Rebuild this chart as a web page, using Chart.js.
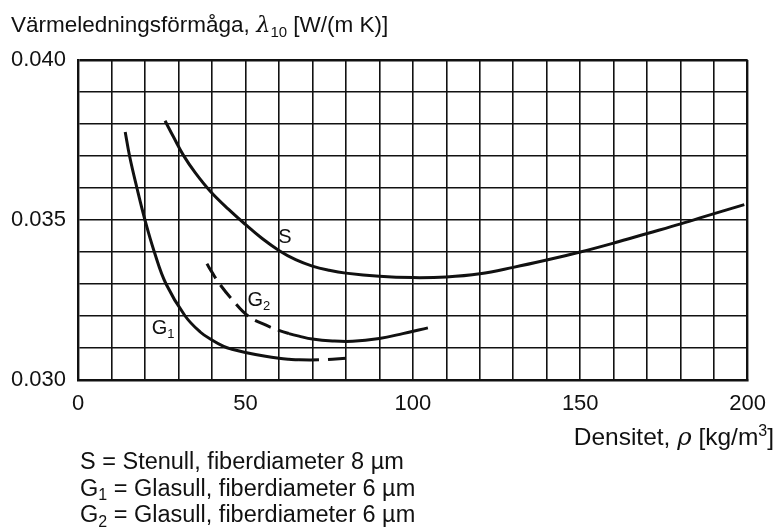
<!DOCTYPE html>
<html>
<head>
<meta charset="utf-8">
<script src="https://cdn.jsdelivr.net/npm/chart.js@4"></script>
<style>
html,body{margin:0;padding:0;background:#fff;}
#wrap{width:777px;height:531px;position:relative;}
</style>
</head>
<body>
<div id="wrap"><canvas id="c" width="777" height="531"></canvas></div>
<script>
// ---- data ----
const sX  = [26, 28.5, 31.5, 35, 39.5, 45, 50, 55, 60, 65, 70, 75, 80, 90, 100, 110, 120, 130, 140, 150, 160, 170, 180, 190, 199];
const sY  = [0.0381, 0.0376, 0.03702, 0.03648, 0.0359, 0.03533, 0.03486, 0.03442, 0.03405, 0.03376, 0.03356, 0.03343, 0.03334, 0.03324, 0.0332, 0.03322, 0.03332, 0.03352, 0.03375, 0.034, 0.03428, 0.03458, 0.03488, 0.0352, 0.03548];
const g1X = [14.1, 15.4, 17.6, 20, 22.8, 26.3, 32, 36.5, 40, 43.5, 46, 50, 56, 60, 63, 66, 72, 80];
const g1Y = [0.03775, 0.0370, 0.0360, 0.0350, 0.0340, 0.0330, 0.0320, 0.0315, 0.03125, 0.03105, 0.03096, 0.03086, 0.03074, 0.03068, 0.03065, 0.03063, 0.03063, 0.03068];
const g1DashFrom = 63.5; // G1 is dashed beyond this density
const g2X = [38.5, 40, 42.3, 46, 50.8, 56, 60, 63, 66, 70, 76, 82, 90, 97, 104.5];
const g2Y = [0.03363, 0.03337, 0.0330, 0.03252, 0.0320, 0.03172, 0.03155, 0.03145, 0.03137, 0.03128, 0.03122, 0.03121, 0.0313, 0.03145, 0.03163];
const g2DashTo = 63;     // G2 is dashed up to this density
const xTickLabels = [0, 50, 100, 150, 200];
const yTickLabels = ['0.030', '0.035', '0.040'];
const curveLabels = [
  {runs: [['S','n']], x: 61.6, y: 0.0345},
  {runs: [['G','n'],['2','sub']], x: 52.4, y: 0.03253},
  {runs: [['G','n'],['1','sub']], x: 23.8, y: 0.03166}
];
const titleRuns = [['Värmeledningsförmåga, ','n'],['λ','i'],['10','sub'],[' [W/(m K)]','n']];
const xTitleRuns = [['Densitet, ','n'],['ρ','i'],[' [kg/m','n'],['3','sup'],[']','n']];
const legendLines = [
  [['S = Stenull, fiberdiameter 8 µm','n']],
  [['G','n'],['1','sub'],[' = Glasull, fiberdiameter 6 µm','n']],
  [['G','n'],['2','sub'],[' = Glasull, fiberdiameter 6 µm','n']]
];

const FONT = '"Liberation Sans", Arial, sans-serif';
const INK = '#111';

function runFont(style, size){
  if (style === 'i') return 'italic ' + size + 'px "DejaVu Serif", serif';
  if (style === 'sub' || style === 'sup') return Math.round(size*0.66) + 'px ' + FONT;
  return size + 'px ' + FONT;
}
function runsWidth(ctx, runs, size){
  let w = 0;
  for (const [t, s] of runs){ ctx.font = runFont(s, size); w += ctx.measureText(t).width; }
  return w;
}
function drawRuns(ctx, runs, x, y, size, align){
  if (align === 'right') x -= runsWidth(ctx, runs, size);
  ctx.textBaseline = 'alphabetic';
  ctx.textAlign = 'left';
  ctx.fillStyle = INK;
  for (const [t, s] of runs){
    ctx.font = runFont(s, size);
    let dy = 0;
    if (s === 'sub') dy = size*0.2;
    if (s === 'sup') dy = -size*0.38;
    ctx.fillText(t, x, y + dy);
    x += ctx.measureText(t).width;
  }
}

const textPlugin = {
  id: 'texts',
  afterDraw(chart){
    const ctx = chart.ctx;
    const xs = chart.scales.x, ys = chart.scales.y;
    ctx.save();
    drawRuns(ctx, titleRuns, 11, 32, 22.5, 'left');
    drawRuns(ctx, xTitleRuns, 774, 445, 24.5, 'right');
    legendLines.forEach((runs, i) => drawRuns(ctx, runs, 80, 469 + i*26.5, 23.5, 'left'));
    for (const lab of curveLabels){
      drawRuns(ctx, lab.runs, xs.getPixelForValue(lab.x) - 6, ys.getPixelForValue(lab.y) + 7, 20, 'left');
    }
    ctx.restore();
  }
};

const lineStyle = {
  borderColor: INK, borderWidth: 3, pointRadius: 0, showLine: true,
  tension: 0.4, fill: false, borderCapStyle: 'butt'
};
const pts = (xs, ys) => xs.map((x, i) => ({x, y: ys[i]}));

new Chart(document.getElementById('c'), {
  type: 'scatter',
  data: {
    datasets: [
      Object.assign({label: 'S', data: pts(sX, sY)}, lineStyle),
      Object.assign({label: 'G1', data: pts(g1X, g1Y),
        segment: {borderDash: c => c.p0.parsed.x >= g1DashFrom ? [20, 9] : undefined}}, lineStyle),
      Object.assign({label: 'G2', data: pts(g2X, g2Y),
        segment: {borderDash: c => c.p1.parsed.x <= g2DashTo ? [17, 8] : undefined}}, lineStyle)
    ]
  },
  options: {
    responsive: false,
    animation: false,
    devicePixelRatio: 1,
    layout: {padding: {left: 0, top: 60, right: 27, bottom: 111}},
    plugins: {legend: {display: false}, tooltip: {enabled: false}, title: {display: false}},
    scales: {
      x: {
        type: 'linear', min: 0, max: 200,
        afterFit: s => { s.height = 40; },
        border: {display: true, color: INK, width: 2.4},
        grid: {color: INK, lineWidth: c => (c.tick && (c.tick.value === 200)) ? 2.4 : 1.6, drawTicks: false},
        ticks: {
          stepSize: 10, padding: 11, color: INK, maxRotation: 0, autoSkip: false,
          font: {family: FONT, size: 22},
          callback: v => xTickLabels.includes(v) ? String(v) : ''
        }
      },
      y: {
        type: 'linear', min: 0.030, max: 0.040,
        afterFit: s => { s.width = 78; },
        border: {display: true, color: INK, width: 2.4},
        grid: {color: INK, lineWidth: c => (c.tick && Math.abs(c.tick.value - 0.040) < 1e-9) ? 2.4 : 1.6, drawTicks: false},
        ticks: {
          stepSize: 0.001, padding: 12, color: INK, autoSkip: false,
          font: {family: FONT, size: 22},
          callback: v => { const s = v.toFixed(3); return yTickLabels.includes(s) ? s : ''; }
        }
      }
    }
  },
  plugins: [textPlugin]
});
</script>
</body>
</html>
